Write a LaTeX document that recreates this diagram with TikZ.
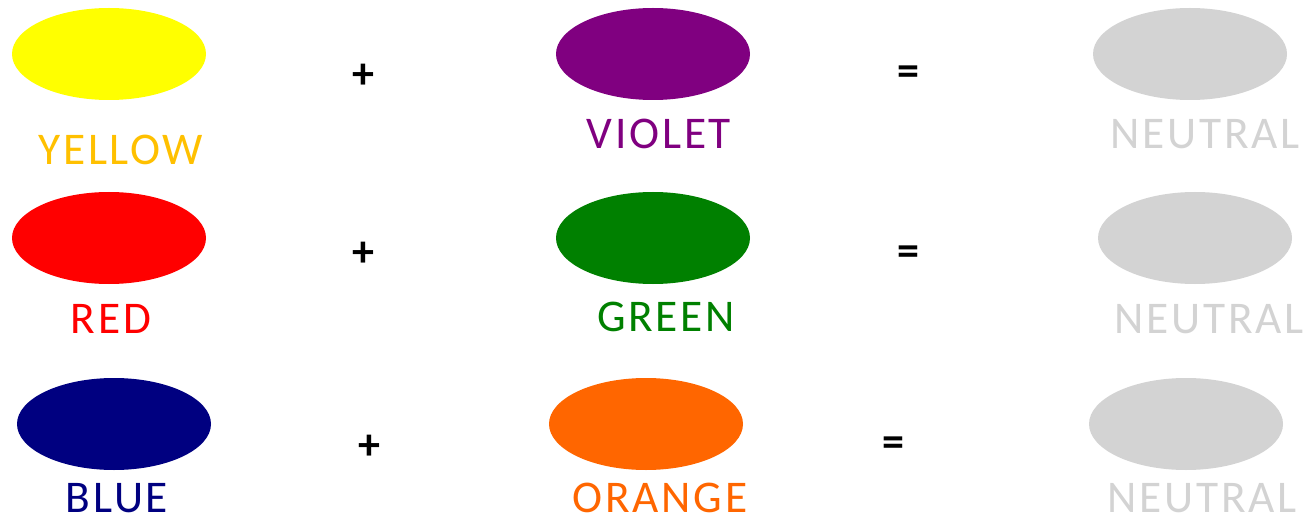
\documentclass[tikz,border=0pt]{standalone}
\usepackage{fontspec}
\setmainfont{Carlito}
\newfontfamily\labelfont[LetterSpace=6]{Carlito}
\usetikzlibrary{shapes.geometric}
\definecolor{cyellow}{HTML}{FFFF00}
\definecolor{cyellowtext}{HTML}{FFC000}
\definecolor{cviolet}{HTML}{800080}
\definecolor{cred}{HTML}{FF0000}
\definecolor{cgreen}{HTML}{008000}
\definecolor{cblue}{HTML}{000080}
\definecolor{corange}{HTML}{FF6600}
\definecolor{cneutral}{HTML}{D3D3D3}
\tikzset{
  blob/.style={ellipse, fill=#1, draw=none, minimum width=145.5pt, minimum height=69pt, inner sep=0pt},
  lbl/.style={anchor=base, text=#1, font=\labelfont\fontsize{34}{34}\selectfont, inner sep=0pt},
  op/.style={font=\bfseries\fontsize{33}{33}\selectfont, inner sep=0pt}
}
\begin{document}
\begin{tikzpicture}[x=0.75pt,y=-0.75pt]
\useasboundingbox (0,0) rectangle (1305,520);
% row 1
\node[blob=cyellow] (e1) at (109,54) {};
\node[blob=cviolet] (e2) at (653,54) {};
\node[blob=cneutral] (e3) at (1190,54) {};
\node[lbl=cyellowtext] (t1) at (121,165) {YELLOW};
\node[lbl=cviolet] (t2) at (659,149) {VIOLET};
\node[lbl=cneutral] (t3) at (1205,149) {NEUTRAL};
\node[op] (p1) at (363,76) {+};
\node[op] (q1) at (908,76) {=};
% row 2
\node[blob=cred] (e4) at (109,238) {};
\node[blob=cgreen] (e5) at (653,238) {};
\node[blob=cneutral] (e6) at (1195,238) {};
\node[lbl=cred] (t4) at (111,333) {RED};
\node[lbl=cgreen] (t5) at (666,331) {GREEN};
\node[lbl=cneutral] (t6) at (1209,333) {NEUTRAL};
\node[op] (p2) at (363,254) {+};
\node[op] (q2) at (908,256) {=};
% row 3
\node[blob=cblue] (e7) at (114,424) {};
\node[blob=corange] (e8) at (646,424) {};
\node[blob=cneutral] (e9) at (1186,424) {};
\node[lbl=cblue] (t7) at (117,512) {BLUE};
\node[lbl=corange] (t8) at (660,512) {ORANGE};
\node[lbl=cneutral] (t9) at (1202,512) {NEUTRAL};
\node[op] (p3) at (369,447) {+};
\node[op] (q3) at (893,447) {=};
\end{tikzpicture}
\end{document}
